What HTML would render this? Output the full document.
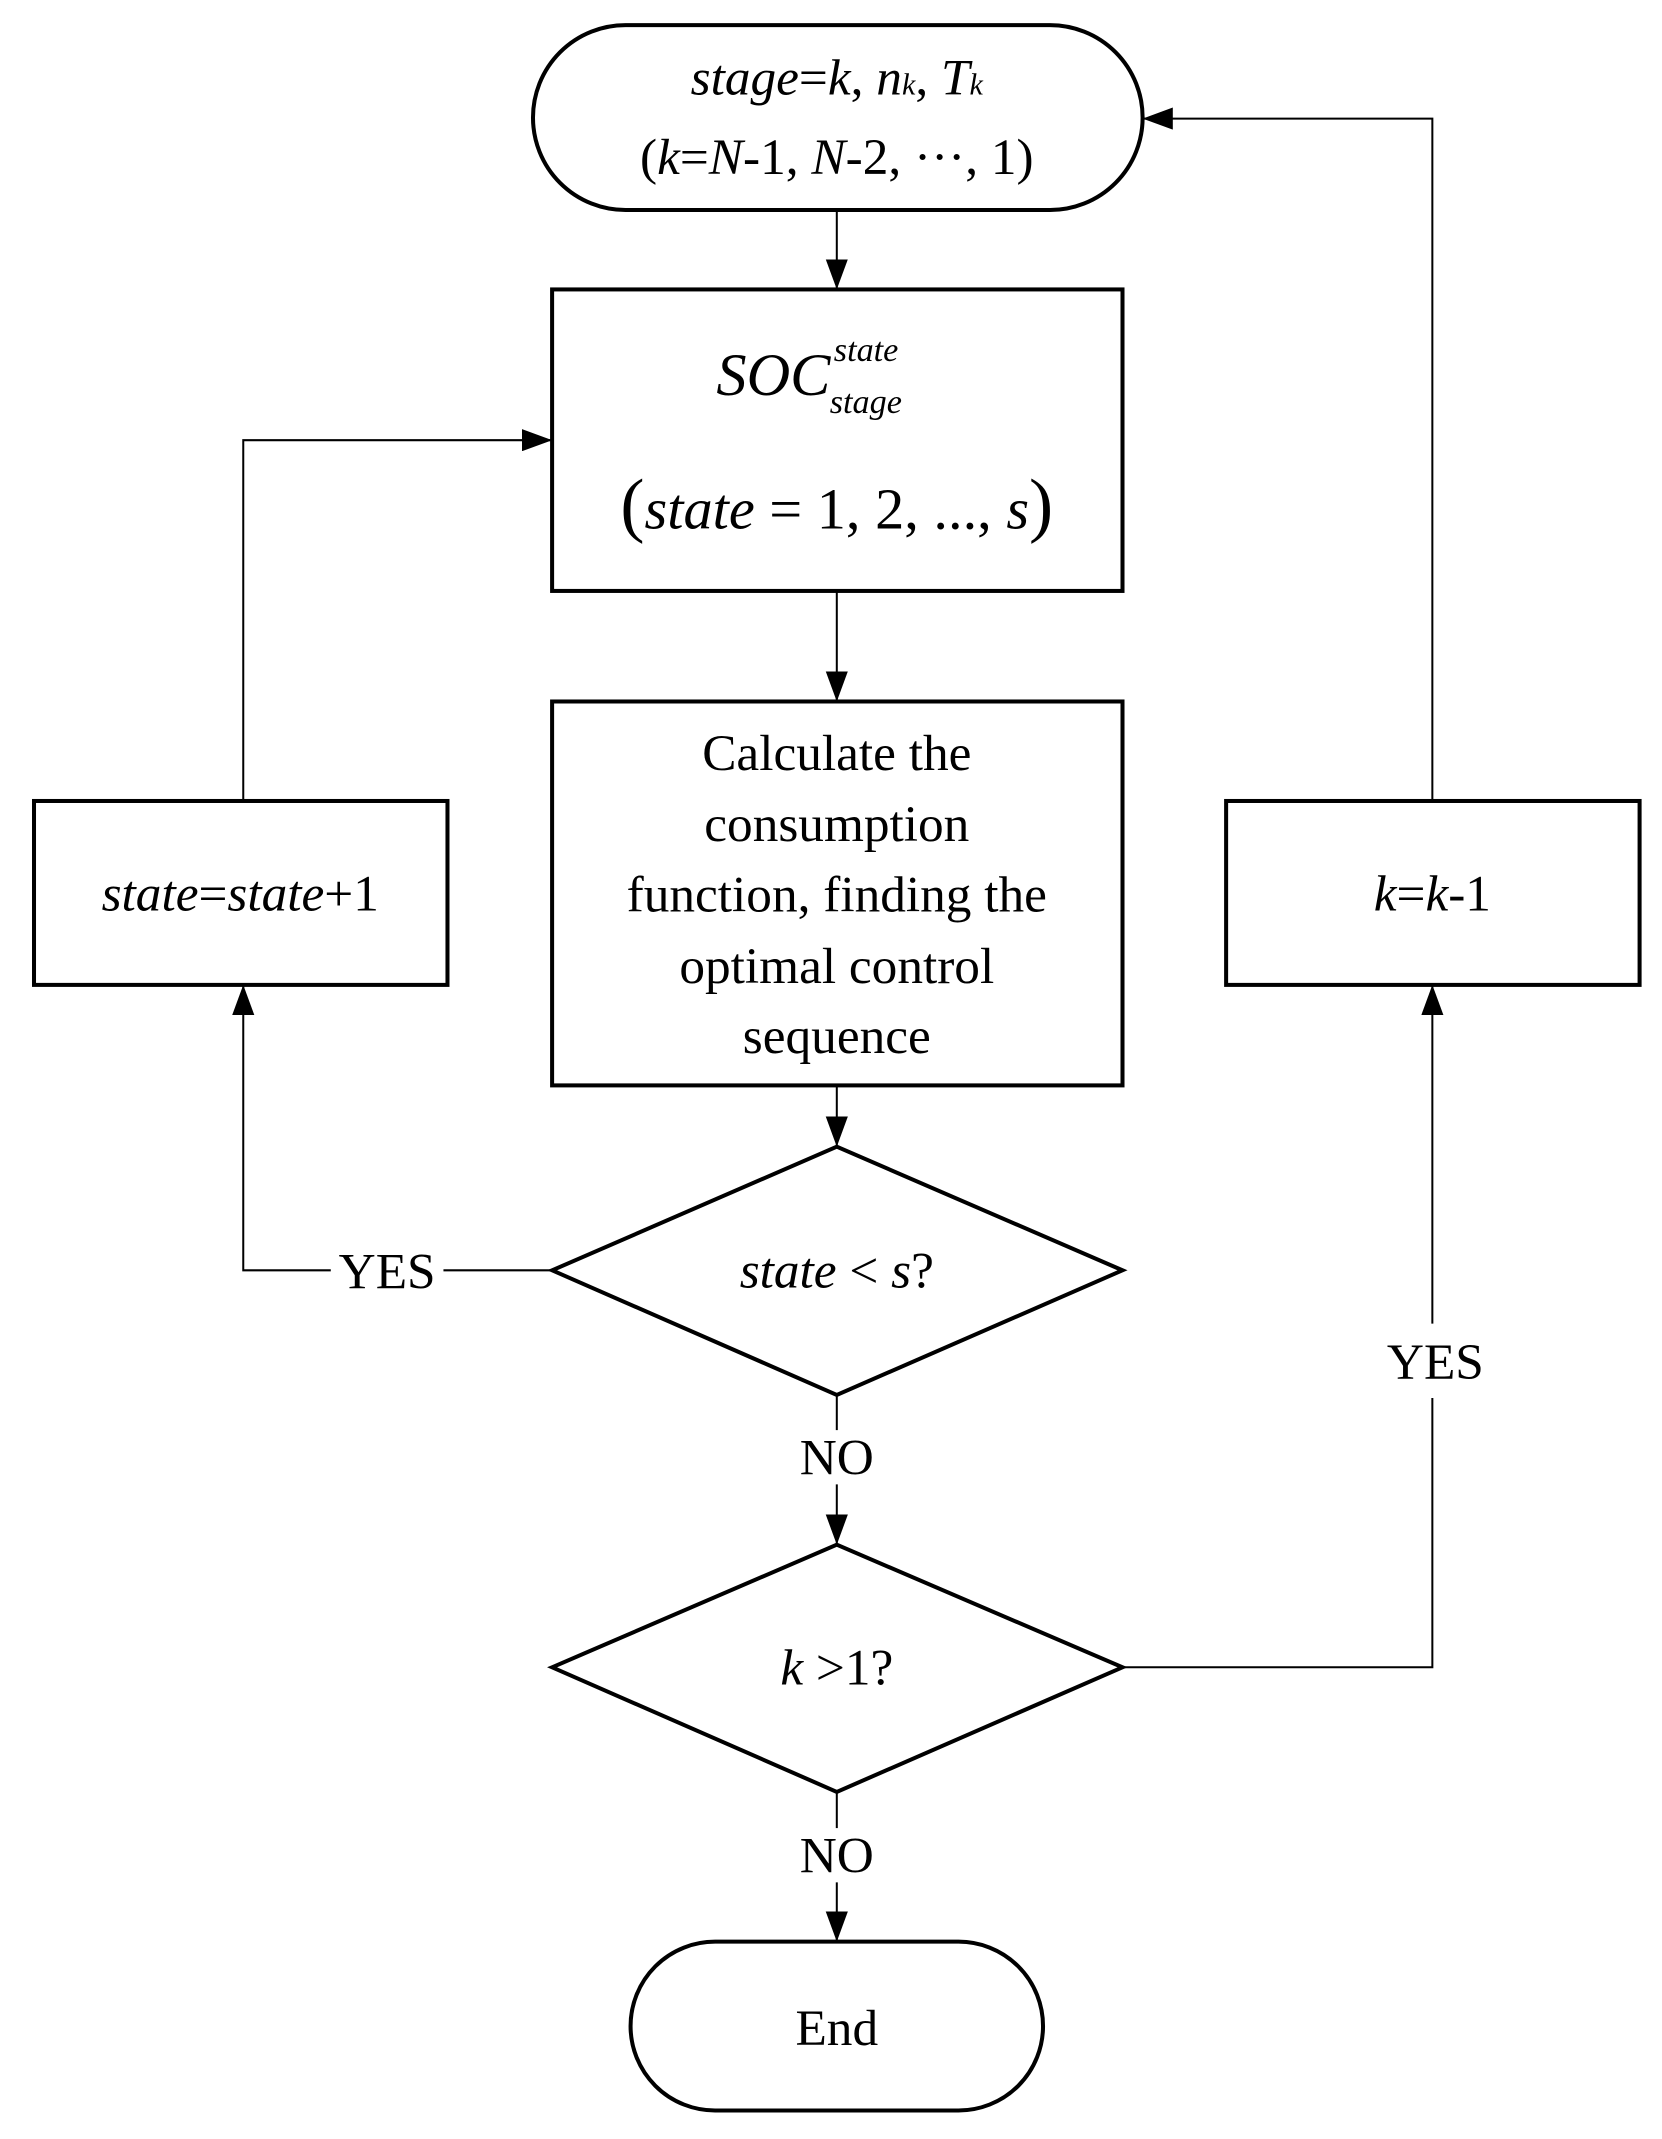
<!DOCTYPE html>
<html><head><style>body{margin:0;background:#fff}svg{display:block}</style></head>
<body>
<svg width="1662" height="2139" viewBox="0 0 1662 2139" xmlns="http://www.w3.org/2000/svg" font-family="Liberation Serif, serif" fill="none" stroke="#000">
<defs>
<marker id="b" markerWidth="30" markerHeight="22" refX="30" refY="11" orient="auto" markerUnits="userSpaceOnUse" viewBox="0 0 30 22"><path d="M0,0 L30,11 L0,22 z" fill="#000" stroke="none"/></marker></defs>
<g transform="translate(-1.2,1) scale(1.006,1.005)">
<g stroke-width="4">
<rect x="531" y="24" width="606" height="184" rx="92" ry="92"/>
<rect x="550" y="287" width="567" height="300"/>
<rect x="550" y="697" width="567" height="382"/>
<polygon points="550,1263 833,1140 1117,1263 833,1387"/>
<polygon points="550,1658 833,1536 1117,1658 833,1782"/>
<rect x="628" y="1931" width="410" height="168" rx="84" ry="84"/>
<rect x="35" y="796" width="411" height="183"/>
<rect x="1220" y="796" width="411" height="183"/>
</g>
<g stroke-width="2">
<line x1="833" y1="208" x2="833" y2="287" marker-end="url(#b)"/>
<line x1="833" y1="587" x2="833" y2="697" marker-end="url(#b)"/>
<line x1="833" y1="1079" x2="833" y2="1140" marker-end="url(#b)"/>
<line x1="833" y1="1387" x2="833" y2="1422"/>
<line x1="833" y1="1476" x2="833" y2="1536" marker-end="url(#b)"/>
<line x1="833" y1="1782" x2="833" y2="1818"/>
<line x1="833" y1="1872" x2="833" y2="1931" marker-end="url(#b)"/>
<polyline points="550,1263 442,1263"/>
<polyline points="330,1263 243,1263 243,979" marker-end="url(#b)"/>
<polyline points="243,796 243,437 550,437" marker-end="url(#b)"/>
<polyline points="1117,1658 1425,1658 1425,1390"/>
<polyline points="1425,1316 1425,979" marker-end="url(#b)"/>
<polyline points="1425,796 1425,117 1137,117" marker-end="url(#b)"/>
</g>
<g fill="#000" stroke="none" font-size="51" text-anchor="middle">
<text x="833" y="93"><tspan font-style="italic">stage</tspan>=<tspan font-style="italic">k</tspan>, <tspan font-style="italic">n</tspan><tspan font-size="30" font-style="italic">k</tspan>, <tspan font-style="italic">T</tspan><tspan font-size="30" font-style="italic">k</tspan></text>
<text x="833" y="172">(<tspan font-style="italic">k</tspan>=<tspan font-style="italic">N</tspan>-1, <tspan font-style="italic">N</tspan>-2, ···, 1)</text>
<text x="770" y="392" font-size="60" font-style="italic" text-anchor="middle">SOC</text>
<text x="830" y="358" font-size="34" font-style="italic" text-anchor="start">state</text>
<text x="826" y="410" font-size="34" font-style="italic" text-anchor="start">stage</text>
<text x="833" y="525" font-size="58"><tspan font-size="72">(</tspan><tspan font-style="italic">state</tspan> = 1, 2, ..., <tspan font-style="italic">s</tspan><tspan font-size="72">)</tspan></text>
<text x="833" y="765">Calculate the</text>
<text x="833" y="836">consumption</text>
<text x="833" y="906">function, finding the</text>
<text x="833" y="977">optimal control</text>
<text x="833" y="1047">sequence</text>
<text x="240" y="905"><tspan font-style="italic">state</tspan>=<tspan font-style="italic">state</tspan>+1</text>
<text x="1425" y="905"><tspan font-style="italic">k</tspan>=<tspan font-style="italic">k</tspan>-1</text>
<text x="833" y="1280"><tspan font-style="italic">state</tspan> &lt; <tspan font-style="italic">s</tspan>?</text>
<text x="833" y="1675"><tspan font-style="italic">k</tspan> &gt;1?</text>
<text x="386" y="1281">YES</text>
<text x="1428" y="1371">YES</text>
<text x="833" y="1466">NO</text>
<text x="833" y="1862">NO</text>
<text x="833" y="2034">End</text>
</g>
</g>
</svg>
</body></html>
